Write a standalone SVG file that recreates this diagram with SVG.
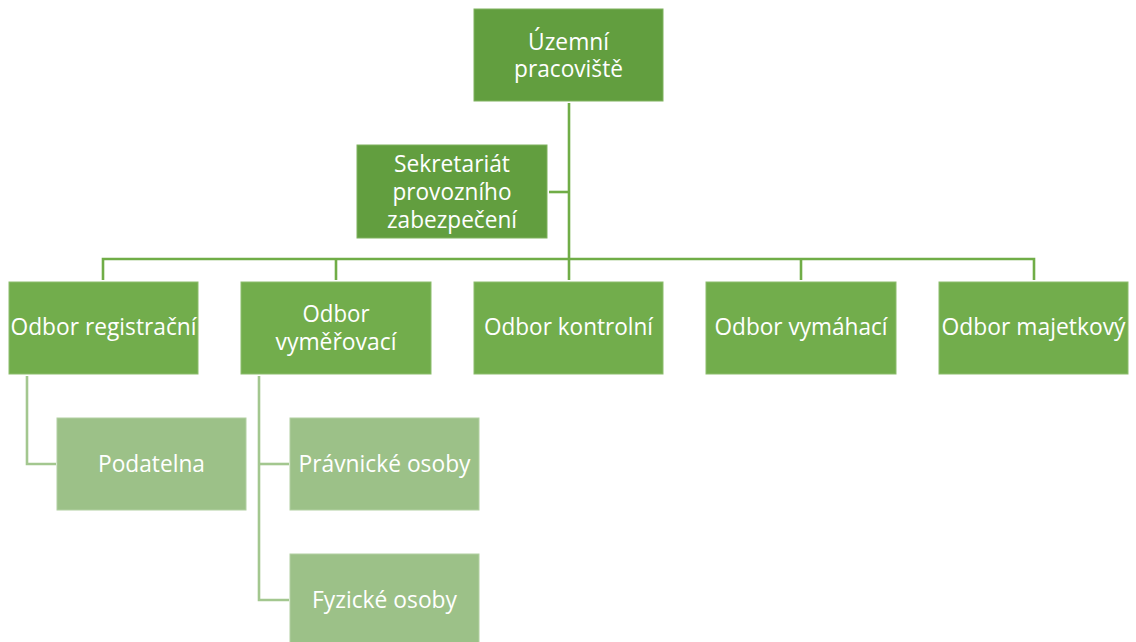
<svg xmlns="http://www.w3.org/2000/svg" width="1136" height="642" viewBox="0 0 1136 642">
  <style>
    .lvl1 { fill: #629E3F; stroke: #7FB25F; stroke-width: 1; }
    .lvl2 { fill: #72AD4C; stroke: #8CBD6C; stroke-width: 1; }
    .lvl3 { fill: #9CC188; stroke: #B2D0A2; stroke-width: 1; }
    .lbl { font-family: "Open Sans", "Noto Sans", "Liberation Sans", sans-serif; font-size: 24px; fill: #FFFFFF; text-anchor: middle; }
    .conn { fill: none; stroke: #70AD47; stroke-width: 2.6; stroke-linejoin: miter; }
    .conn3 { fill: none; stroke: #A3C78F; stroke-width: 2.6; stroke-linejoin: miter; }
  </style>

  <!-- connectors -->
  <g id="connectors">
    <path class="conn" d="M569 103 V259"/>
    <path class="conn" d="M549 192 H569"/>
    <path class="conn" d="M103 280 V259 H1034 V280"/>
    <path class="conn" d="M336 259 V280"/>
    <path class="conn" d="M569 259 V280"/>
    <path class="conn" d="M801 259 V280"/>
    <path class="conn3" d="M27 376 V464 H56"/>
    <path class="conn3" d="M259 376 V600 H289"/>
    <path class="conn3" d="M259 464 H289"/>
  </g>

  <!-- top -->
  <g id="uzemni-pracoviste">
    <rect class="lvl1" x="474" y="9" width="189" height="92"/>
    <text class="lbl" x="568.5" y="50" textLength="81" lengthAdjust="spacingAndGlyphs">Územní</text>
    <text class="lbl" x="568.5" y="77" textLength="109" lengthAdjust="spacingAndGlyphs">pracoviště</text>
  </g>

  <g id="sekretariat">
    <rect class="lvl1" x="357" y="145" width="190" height="93"/>
    <text class="lbl" x="452" y="172" textLength="116" lengthAdjust="spacingAndGlyphs">Sekretariát</text>
    <text class="lbl" x="452" y="200" textLength="119" lengthAdjust="spacingAndGlyphs">provozního</text>
    <text class="lbl" x="452" y="228" textLength="130" lengthAdjust="spacingAndGlyphs">zabezpečení</text>
  </g>

  <!-- departments -->
  <g id="odbor-registracni">
    <rect class="lvl2" x="9" y="282" width="189" height="92"/>
    <text class="lbl" x="103.5" y="335" textLength="186" lengthAdjust="spacingAndGlyphs">Odbor registrační</text>
  </g>

  <g id="odbor-vymerovaci">
    <rect class="lvl2" x="241" y="282" width="190" height="92"/>
    <text class="lbl" x="336" y="322" textLength="67" lengthAdjust="spacingAndGlyphs">Odbor</text>
    <text class="lbl" x="336" y="350" textLength="121" lengthAdjust="spacingAndGlyphs">vyměřovací</text>
  </g>

  <g id="odbor-kontrolni">
    <rect class="lvl2" x="474" y="282" width="189" height="92"/>
    <text class="lbl" x="568.5" y="335" textLength="169" lengthAdjust="spacingAndGlyphs">Odbor kontrolní</text>
  </g>

  <g id="odbor-vymahaci">
    <rect class="lvl2" x="706" y="282" width="190" height="92"/>
    <text class="lbl" x="801" y="335" textLength="173" lengthAdjust="spacingAndGlyphs">Odbor vymáhací</text>
  </g>

  <g id="odbor-majetkovy">
    <rect class="lvl2" x="939" y="282" width="189" height="92"/>
    <text class="lbl" x="1033.5" y="335" textLength="184" lengthAdjust="spacingAndGlyphs">Odbor majetkový</text>
  </g>

  <!-- sub-units -->
  <g id="podatelna">
    <rect class="lvl3" x="57" y="418" width="189" height="92"/>
    <text class="lbl" x="151.5" y="472" textLength="107" lengthAdjust="spacingAndGlyphs">Podatelna</text>
  </g>

  <g id="pravnicke-osoby">
    <rect class="lvl3" x="290" y="418" width="189" height="92"/>
    <text class="lbl" x="384.5" y="472" textLength="172" lengthAdjust="spacingAndGlyphs">Právnické osoby</text>
  </g>

  <g id="fyzicke-osoby">
    <rect class="lvl3" x="290" y="554" width="189" height="92"/>
    <text class="lbl" x="384.5" y="608" textLength="145" lengthAdjust="spacingAndGlyphs">Fyzické osoby</text>
  </g>
</svg>
